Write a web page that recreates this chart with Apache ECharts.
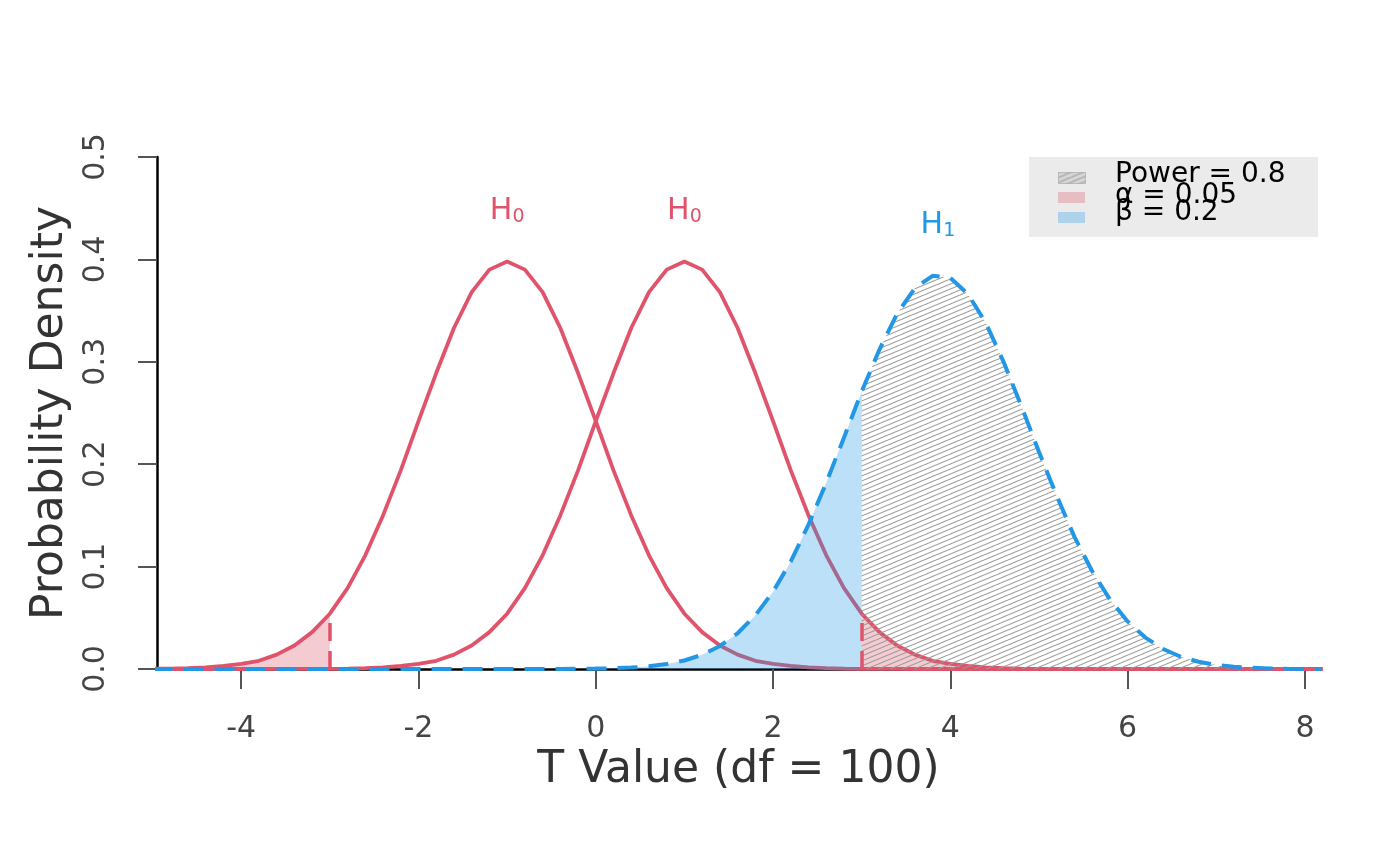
<!DOCTYPE html>
<html>
<head>
    <meta charset="utf-8">
    <title>T power plot</title>
    <script src="https://cdn.jsdelivr.net/npm/echarts@6/dist/echarts.min.js"></script>
    <style type="text/css">
    html, body { margin: 0; padding: 0; background: #fff; }
    #main { width: 1400px; height: 866px; }
    </style>
</head>
<body>
    <div id="main"></div>
    <script>
        // t values (df = 100), step 0.2
        var tValues = [
            -5.0, -4.8, -4.6, -4.4, -4.2, -4.0, -3.8, -3.6, -3.4, -3.2,
            -3.0, -2.8, -2.6, -2.4, -2.2, -2.0, -1.8, -1.6, -1.4, -1.2,
            -1.0, -0.8, -0.6, -0.4, -0.2, 0.0, 0.2, 0.4, 0.6, 0.8,
            1.0, 1.2, 1.4, 1.6, 1.8, 2.0, 2.2, 2.4, 2.6, 2.8,
            3.0, 3.2, 3.4, 3.6, 3.8, 4.0, 4.2, 4.4, 4.6, 4.8,
            5.0, 5.2, 5.4, 5.6, 5.8, 6.0, 6.2, 6.4, 6.6, 6.8,
            7.0, 7.2, 7.4, 7.6, 7.8, 8.0, 8.2
        ];
        // left H0 density (centred at -1)
        var h0LeftDensity = [
            0.0002, 0.0004, 0.0008, 0.0015, 0.003, 0.005, 0.008, 0.014, 0.023, 0.036,
            0.054, 0.079, 0.111, 0.150, 0.194, 0.242, 0.289, 0.333, 0.368, 0.390,
            0.398, 0.390, 0.368, 0.333, 0.289, 0.242, 0.194, 0.150, 0.111, 0.079,
            0.054, 0.036, 0.023, 0.014, 0.008, 0.005, 0.003, 0.0015, 0.0008, 0.0004,
            0.0002, 0.0001, 0.0001, 0, 0, 0, 0, 0, 0, 0,
            0, 0, 0, 0, 0, 0, 0, 0, 0, 0,
            0, 0, 0, 0, 0, 0, 0
        ];
        // right H0 density (centred at 1)
        var h0RightDensity = [
            0, 0, 0, 0, 0, 0, 0, 0.0001, 0.0001, 0.0001,
            0.0002, 0.0004, 0.0008, 0.0015, 0.003, 0.005, 0.008, 0.014, 0.023, 0.036,
            0.054, 0.079, 0.111, 0.150, 0.194, 0.242, 0.289, 0.333, 0.368, 0.390,
            0.398, 0.390, 0.368, 0.333, 0.289, 0.242, 0.194, 0.150, 0.111, 0.079,
            0.054, 0.036, 0.023, 0.014, 0.008, 0.005, 0.003, 0.0015, 0.0008, 0.0004,
            0.0002, 0.0001, 0.0001, 0.0001, 0, 0, 0, 0, 0, 0,
            0, 0, 0, 0, 0, 0, 0
        ];
        // H1 density
        var h1Density = [
            0, 0, 0, 0, 0, 0, 0, 0, 0, 0,
            0, 0, 0, 0, 0, 0, 0, 0, 0, 0,
            0, 0, 0, 0.0001, 0.0002, 0.0004, 0.0007, 0.0014, 0.0026, 0.0048,
            0.0083, 0.0139, 0.0225, 0.0349, 0.0523, 0.0755, 0.105, 0.141, 0.182, 0.226,
            0.271, 0.312, 0.347, 0.372, 0.384, 0.382, 0.366, 0.338, 0.300, 0.257,
            0.212, 0.169, 0.129, 0.0955, 0.0679, 0.0465, 0.0307, 0.0195, 0.0120, 0.0071,
            0.0040, 0.0022, 0.0012, 0.0006, 0.0003, 0.0001, 0.0001
        ];
        var critValues = [-3, 3];
        var xTicks = [-4, -2, 0, 2, 4, 6, 8];
        var legendLabels = ['Power = 0.8', 'α = 0.05', 'β = 0.2'];

        var RED = '#DF536B';
        var BLUE = '#2297E6';
        var PINK = 'rgba(223,83,107,0.3)';
        var LIGHTBLUE = 'rgba(34,151,230,0.3)';
        var FONT = 'DejaVu Sans';

        function pairs(ys, keep) {
            var out = [];
            for (var i = 0; i < tValues.length; i++) {
                if (keep(tValues[i])) out.push([tValues[i], ys[i]]);
            }
            return out;
        }
        function all() { return true; }

        // hatch pattern for the power area
        function hatch(bg) {
            var w = 12, h = 5;
            var c = document.createElement('canvas');
            c.width = w; c.height = h;
            var ctx = c.getContext('2d');
            if (bg) { ctx.fillStyle = bg; ctx.fillRect(0, 0, w, h); }
            ctx.strokeStyle = '#9a9a9a';
            ctx.lineWidth = 1.1;
            for (var k = -2; k <= 2; k++) {
                ctx.beginPath();
                ctx.moveTo(0, h + k * h);
                ctx.lineTo(w, k * h);
                ctx.stroke();
            }
            return { image: c, repeat: 'repeat' };
        }

        // H with a lowered subscript digit
        function hLabel(sub, color) {
            return {
                show: true, position: 'inside',
                formatter: '{h|H}{s|' + sub + '}',
                rich: {
                    h: { fontFamily: FONT, fontSize: 30, lineHeight: 30, verticalAlign: 'top', color: color },
                    s: { fontFamily: FONT, fontSize: 19, lineHeight: 10, verticalAlign: 'bottom', color: color }
                }
            };
        }

        var chart = echarts.init(document.getElementById('main'));

        function fillSeries(name, data, color, z) {
            return {
                name: name,
                type: 'line',
                z: z,
                data: data,
                showSymbol: false,
                silent: true,
                lineStyle: { width: 0, opacity: 0 },
                areaStyle: { color: color, opacity: 1 }
            };
        }

        var option = {
            backgroundColor: '#fff',
            animation: false,
            grid: { left: 157, right: 80, top: 157, bottom: 197 },
            xAxis: {
                type: 'value',
                min: -4.95,
                max: 8.17,
                name: 'T Value (df = 100)',
                nameLocation: 'middle',
                nameGap: 80,
                nameTextStyle: { fontFamily: FONT, fontSize: 44, color: '#333' },
                axisLine: { onZero: false, lineStyle: { color: '#000', width: 2.5 } },
                axisTick: { customValues: xTicks, length: 20, lineStyle: { color: '#555', width: 2 } },
                axisLabel: {
                    customValues: xTicks,
                    margin: 45,
                    fontFamily: FONT, fontSize: 30, color: '#444'
                },
                splitLine: { show: false }
            },
            yAxis: {
                type: 'value',
                min: 0,
                max: 0.5,
                interval: 0.1,
                name: 'Probability Density',
                nameLocation: 'middle',
                nameGap: 84,
                nameTextStyle: { fontFamily: FONT, fontSize: 44, color: '#333' },
                axisLine: { show: true, onZero: false, lineStyle: { color: '#000', width: 2.5 } },
                axisTick: { show: true, length: 19, lineStyle: { color: '#555', width: 2 } },
                axisLabel: {
                    rotate: 90,
                    margin: 46,
                    fontFamily: FONT, fontSize: 30, color: '#444',
                    formatter: function (v) { return v.toFixed(1); }
                },
                splitLine: { show: false }
            },
            graphic: [
                { type: 'rect', left: 1029, top: 157, shape: { width: 289, height: 80 }, style: { fill: '#ebebeb' }, z: 10 },
                { type: 'rect', left: 1058, top: 172, shape: { width: 27, height: 11 }, style: { fill: hatch('#d6d6d6'), stroke: 'rgba(150,150,150,0.5)', lineWidth: 1 }, z: 11 },
                { type: 'rect', left: 1058, top: 192, shape: { width: 27, height: 11 }, style: { fill: PINK }, z: 11 },
                { type: 'rect', left: 1058, top: 212, shape: { width: 27, height: 11 }, style: { fill: LIGHTBLUE }, z: 11 },
                { type: 'text', left: 1115, top: 161, style: { text: legendLabels[0], font: '28px "DejaVu Sans"', fill: '#000' }, z: 12 },
                { type: 'text', left: 1115, top: 182, style: { text: legendLabels[1], font: '28px "DejaVu Sans"', fill: '#000' }, z: 12 },
                { type: 'text', left: 1115, top: 199, style: { text: legendLabels[2], font: '28px "DejaVu Sans"', fill: '#000' }, z: 12 }
            ],
            series: [
                fillSeries('α left', pairs(h0LeftDensity, function (x) { return x <= critValues[0]; }), PINK, 1),
                fillSeries('α right', pairs(h0RightDensity, function (x) { return x >= critValues[1]; }), PINK, 1),
                {
                    name: 'H0 left',
                    type: 'line',
                    z: 2,
                    data: pairs(h0LeftDensity, all),
                    showSymbol: false,
                    lineStyle: { color: RED, width: 3.8 },
                    markPoint: {
                        symbol: 'circle', symbolSize: 1,
                        itemStyle: { color: 'rgba(0,0,0,0)' },
                        label: hLabel('0', RED),
                        data: [{ coord: [-1, 0.447] }]
                    },
                    markLine: {
                        symbol: ['none', 'none'], silent: true,
                        label: { show: false },
                        lineStyle: { color: RED, width: 3.5, type: [18, 10] },
                        data: [[{ coord: [critValues[0], 0] }, { coord: [critValues[0], h0LeftDensity[tValues.indexOf(critValues[0])]] }]]
                    }
                },
                {
                    name: 'H0 right',
                    type: 'line',
                    z: 2,
                    data: pairs(h0RightDensity, all),
                    showSymbol: false,
                    lineStyle: { color: RED, width: 3.8 },
                    markPoint: {
                        symbol: 'circle', symbolSize: 1,
                        itemStyle: { color: 'rgba(0,0,0,0)' },
                        label: hLabel('0', RED),
                        data: [{ coord: [1, 0.447] }]
                    },
                    markLine: {
                        symbol: ['none', 'none'], silent: true,
                        label: { show: false },
                        lineStyle: { color: RED, width: 3.5, type: [18, 10] },
                        data: [[{ coord: [critValues[1], 0] }, { coord: [critValues[1], h0RightDensity[tValues.indexOf(critValues[1])]] }]]
                    }
                },
                fillSeries('β', pairs(h1Density, function (x) { return x <= critValues[1]; }), LIGHTBLUE, 3),
                fillSeries('Power', pairs(h1Density, function (x) { return x >= critValues[1]; }), hatch(null), 3),
                {
                    name: 'H1',
                    type: 'line',
                    z: 4,
                    data: pairs(h1Density, all),
                    showSymbol: false,
                    lineStyle: { color: BLUE, width: 4, type: [20, 11] },
                    markPoint: {
                        symbol: 'circle', symbolSize: 1,
                        itemStyle: { color: 'rgba(0,0,0,0)' },
                        label: hLabel('1', BLUE),
                        data: [{ coord: [3.86, 0.433] }]
                    }
                }
            ]
        };
        chart.setOption(option);
    </script>
</body>
</html>
